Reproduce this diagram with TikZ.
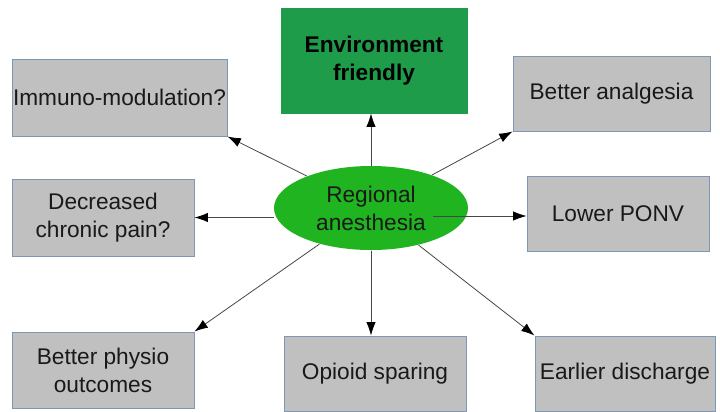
\documentclass[tikz,border=0pt]{standalone}
\usepackage{fontspec}
\setmainfont{Liberation Sans}
\usetikzlibrary{arrows.meta,shapes.geometric}

\definecolor{boxgray}{RGB}{192,192,192}
\definecolor{boxedge}{RGB}{125,152,182}
\definecolor{envgreen}{RGB}{30,156,74}
\definecolor{ragreen}{RGB}{32,180,32}
\definecolor{linegray}{RGB}{70,70,70}

\tikzset{every picture/.style={line width=0.75pt}}
\tikzset{
  benefit/.style={draw=boxedge, fill=boxgray, inner sep=0pt, align=center,
    font=\fontsize{17}{21}\selectfont, text=black!90},
  outarrow/.style={draw=linegray, line width=0.6pt,
    -{Latex[length=10pt,width=7pt,color=black]}}
}

\begin{document}
\begin{tikzpicture}[x=0.75pt,y=0.75pt,yscale=-1,xscale=1]
%set diagram to the 720 x 411 frame
\useasboundingbox (0,0) rectangle (720,411);

%Rect [id:env] 
\node [benefit, fill=envgreen, draw=envgreen, minimum width=139.5pt, minimum height=78.75pt,
  font=\fontsize{17}{21}\selectfont\bfseries, text=black] (env) at (374,60.5) {Environment\\friendly};
%Ellipse [id:ra] 
\node [ellipse, fill=ragreen, inner sep=0pt, minimum width=145.5pt, minimum height=63pt, align=center,
  font=\fontsize{17}{21}\selectfont, text=black!90] (ra) at (371,208) {Regional\\anesthesia};

%Rect [id:imm] 
\node [benefit, minimum width=161.25pt, minimum height=57.75pt] (imm) at (119.5,97.5) {Immuno-modulation?};
%Rect [id:ana] 
\node [benefit, minimum width=147.75pt, minimum height=56.25pt] (ana) at (611.5,93.5) {Better analgesia};
%Rect [id:dec] 
\node [benefit, minimum width=136.5pt, minimum height=57.75pt] (dec) at (103,217.5) {Decreased\\chronic pain?};
%Rect [id:ponv] 
\node [benefit, minimum width=136.5pt, minimum height=56.25pt] (ponv) at (618,213.5) {Lower PONV};
%Rect [id:phy] 
\node [benefit, minimum width=136.5pt, minimum height=57pt] (phy) at (103,370) {Better physio\\outcomes};
%Rect [id:opi] 
\node [benefit, minimum width=136.5pt, minimum height=56.25pt] (opi) at (375,373.5) {Opioid sparing};
%Rect [id:dis] 
\node [benefit, minimum width=135pt, minimum height=56.25pt] (dis) at (625,373.5) {Earlier discharge};

%start of the line to Lower PONV
\coordinate (raright) at (433,216);

%Straight Lines 
\draw [outarrow] (ra.north) -- (ra.north |- env.south);
\draw [outarrow] (ra) -- (imm.south east);
\draw [outarrow] (ra) -- (ana.south west);
\draw [outarrow] (ra.west |- dec.east) -- (dec.east);
\draw [outarrow] (raright) -- (raright -| ponv.west);
\draw [outarrow] (ra) -- (phy.north east);
\draw [outarrow] (ra.south) -- (ra.south |- opi.north);
\draw [outarrow] (ra) -- (dis.north west);

\end{tikzpicture}
\end{document}
